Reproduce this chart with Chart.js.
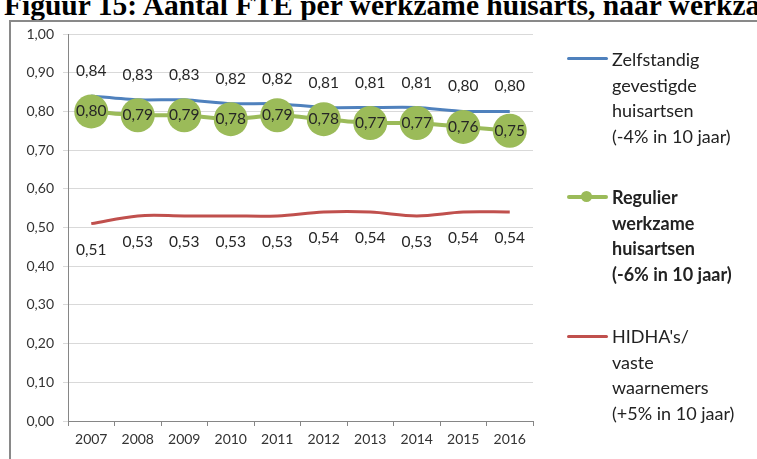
<!DOCTYPE html>
<html>
<head>
<meta charset="utf-8">
<script src="https://cdn.jsdelivr.net/npm/chart.js@4.4.1/dist/chart.umd.min.js"></script>
<style>
  html, body { margin: 0; padding: 0; background: #fff; }
  #wrap { position: relative; width: 757px; height: 459px; overflow: hidden; background: #fff; }
  #title { position: absolute; left: 4px; top: -12px; white-space: nowrap; font-family: "Liberation Serif", "Times New Roman", serif; font-weight: bold; font-size: 29.5px; line-height: 34px; color: #000; }
  #frame { position: absolute; left: 9px; top: 20px; width: 800px; height: 500px; border: 2px solid #898989; box-sizing: border-box; }
  canvas { position: absolute; left: 0; top: 0; }
  .leg { position: absolute; left: 612px; font-family: Lato, "Open Sans", sans-serif; font-size: 18px; line-height: 25.7px; color: #222; white-space: nowrap; }
  .line { position: absolute; left: 567px; width: 41px; border-radius: 2px; }
  .dot { position: absolute; width: 11px; height: 11px; border-radius: 50%; background: #9BBB59; }
</style>
</head>
<body>
<div id="wrap">
  <div id="title">Figuur 15: Aantal FTE per werkzame huisarts, naar werkzaamheid</div>
  <div id="frame"></div>
  <canvas id="c" width="757" height="459"></canvas>
  <div class="line" style="top:57px;height:3px;background:#4F81BD"></div>
  <div class="leg" style="top:47px">Zelfstandig<br>gevestigde<br>huisartsen<br>(-4% in 10 jaar)</div>
  <div class="line" style="top:195px;height:4px;background:#9BBB59"></div>
  <div class="dot" style="left:581px;top:191px"></div>
  <div class="leg" style="top:185px;font-weight:bold">Regulier<br>werkzame<br>huisartsen<br>(-6% in 10 jaar)</div>
  <div class="line" style="top:335px;height:3px;background:#C0504D"></div>
  <div class="leg" style="top:324px">HIDHA's/<br>vaste<br>waarnemers<br>(+5% in 10 jaar)</div>
</div>
<script>
const years = ["2007","2008","2009","2010","2011","2012","2013","2014","2015","2016"];
const zelfstandig = [0.84,0.83,0.83,0.82,0.82,0.81,0.81,0.81,0.80,0.80];
const regulier = [0.80,0.79,0.79,0.78,0.79,0.78,0.77,0.77,0.76,0.75];
const hidha = [0.51,0.53,0.53,0.53,0.53,0.54,0.54,0.53,0.54,0.54];
const seriesNames = ["Zelfstandig gevestigde huisartsen (-4% in 10 jaar)", "Regulier werkzame huisartsen (-6% in 10 jaar)", "HIDHA's/ vaste waarnemers (+5% in 10 jaar)"];

const fmt = v => Number(v).toFixed(2).replace('.', ',');

const labelPlugin = {
  id: 'valueLabels',
  afterDatasetsDraw(chart) {
    const ctx = chart.ctx;
    ctx.save();
    ctx.font = '15.5px Lato, "Open Sans", sans-serif';
    ctx.fillStyle = '#262626';
    ctx.textAlign = 'center';
    ctx.textBaseline = 'middle';
    chart.data.datasets.forEach((ds, i) => {
      const meta = chart.getDatasetMeta(i);
      const off = ds.labelOffset || 0;
      meta.data.forEach((pt, j) => {
        ctx.fillText(fmt(ds.data[j]), pt.x, pt.y + off);
      });
    });
    ctx.restore();
  }
};

new Chart(document.getElementById('c'), {
  type: 'line',
  data: {
    labels: years,
    datasets: [
      { label: seriesNames[0], data: zelfstandig, borderColor: '#4F81BD', borderWidth: 3, pointRadius: 0, tension: 0.2, order: 1, labelOffset: -25 },
      { label: seriesNames[1], data: regulier, borderColor: '#9BBB59', backgroundColor: '#9BBB59', borderWidth: 4, pointRadius: 17, pointBorderWidth: 0, pointBackgroundColor: '#9BBB59', tension: 0.2, order: 0, labelOffset: 0 },
      { label: seriesNames[2], data: hidha, borderColor: '#C0504D', borderWidth: 3, pointRadius: 0, tension: 0.35, order: 2, labelOffset: 26 }
    ]
  },
  options: {
    responsive: false,
    animation: false,
    events: [],
    layout: { padding: { left: 10, top: 34, right: 224, bottom: 13 } },
    plugins: { legend: { display: false }, tooltip: { enabled: false }, title: { display: false } },
    scales: {
      x: {
        offset: true,
        grid: { offset: true, drawOnChartArea: false, drawTicks: true, tickLength: 5, color: '#868686' },
        border: { display: true, color: '#868686', width: 1 },
        ticks: { color: '#333', padding: 5, font: { family: 'Lato, "Open Sans", sans-serif', size: 14 }, maxRotation: 0 },
        afterFit(s) { s.height = 25; }
      },
      y: {
        min: 0, max: 1,
        grid: { color: '#D9D9D9', tickLength: 5, drawTicks: true },
        border: { display: true, color: '#868686', width: 1 },
        ticks: { stepSize: 0.1, padding: 9, color: '#333', font: { family: 'Lato, "Open Sans", sans-serif', size: 14 }, callback: v => fmt(v) },
        afterFit(s) { s.width = 58; }
      }
    }
  },
  plugins: [labelPlugin]
});
</script>
</body>
</html>
